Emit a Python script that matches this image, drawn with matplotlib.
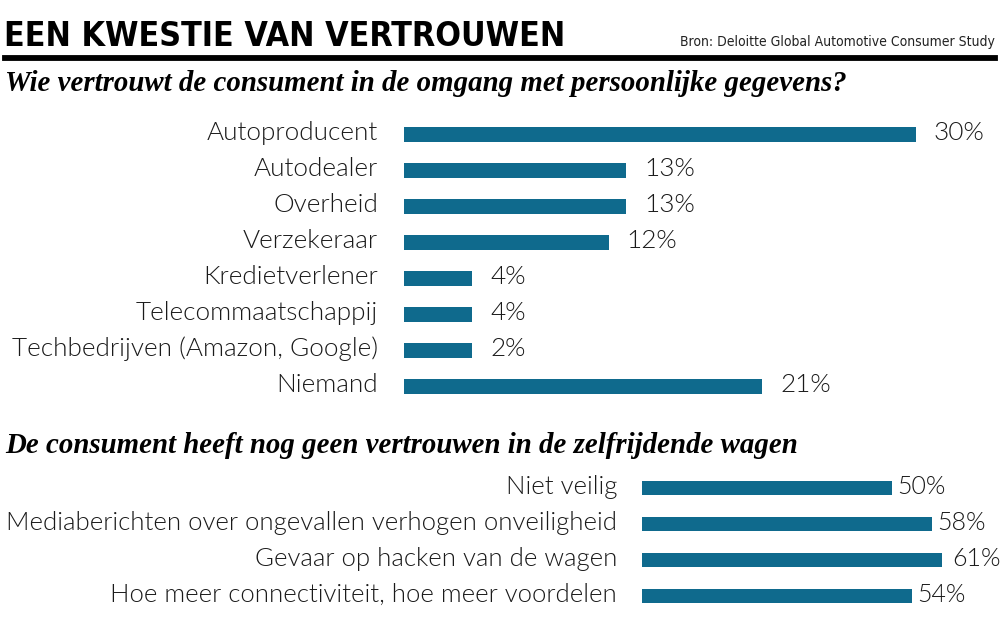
import matplotlib
matplotlib.use("Agg")
import matplotlib.pyplot as plt

W, H = 1000, 639
BAR = "#0f6a8d"
TXT = "#1a1a1a"

title = "EEN KWESTIE VAN VERTROUWEN"
source = "Bron: Deloitte Global Automotive Consumer Study"
subtitle1 = "Wie vertrouwt de consument in de omgang met persoonlijke gegevens?"
subtitle2 = "De consument heeft nog geen vertrouwen in de zelfrijdende wagen"

cats1 = ["Autoproducent", "Autodealer", "Overheid", "Verzekeraar",
         "Kredietverlener", "Telecommaatschappij",
         "Techbedrijven (Amazon, Google)", "Niemand"]
values1 = [30, 13, 13, 12, 4, 4, 2, 21]
# bar lengths as drawn in the source (the 2% bar is drawn as long as 4%)
bars1 = [30, 13, 13, 12, 4, 4, 4, 21]

cats2 = ["Niet veilig", "Mediaberichten over ongevallen verhogen onveiligheid",
         "Gevaar op hacken van de wagen",
         "Hoe meer connectiviteit, hoe meer voordelen"]
values2 = [50, 58, 61, 54]

fig = plt.figure(figsize=(W / 100, H / 100), dpi=100)


def fx(x):
    return x / W


def fy(y):
    return 1 - y / H


LBL = dict(family="Lato", fontweight=300, color=TXT, annotation_clip=False)

fig.text(fx(4), fy(46), title, fontsize=24.3, fontweight="bold",
         fontstretch="condensed", family="DejaVu Sans", color="black",
         va="baseline", ha="left")
fig.text(fx(995), fy(46), source, fontsize=10, family="DejaVu Sans",
         fontstretch="condensed", color="#222222", va="baseline", ha="right")
fig.add_artist(plt.Line2D([fx(5), fx(995)], [fy(58), fy(58)],
                          color="black", linewidth=4.2))
fig.text(fx(5), fy(91), subtitle1, fontsize=20.8, fontweight="bold",
         fontstyle="italic", family="Liberation Serif", color="black",
         va="baseline", ha="left")
fig.text(fx(5), fy(453), subtitle2, fontsize=20.8, fontweight="bold",
         fontstyle="italic", family="Liberation Serif", color="black",
         va="baseline", ha="left")

# top chart
ax1 = fig.add_axes([fx(404), fy(404), 512 / W, 288 / H])
ys = list(range(len(cats1)))
ax1.barh(ys, bars1, height=15 / 36, color=BAR)
ax1.set_xlim(0, 30)
ax1.set_ylim(len(cats1) - 0.5, -0.5)
for i, (c, v, b) in enumerate(zip(cats1, values1, bars1)):
    ax1.annotate(c, xy=(0, i), xytext=(-26, 1), textcoords="offset pixels",
                 ha="right", va="center", fontsize=18.8, **LBL)
    ax1.annotate(f"{v}%", xy=(b, i), xytext=(18, 1), textcoords="offset pixels",
                 ha="left", va="center", fontsize=18.8, **LBL)
ax1.axis("off")

# bottom chart
ax2 = fig.add_axes([fx(642), fy(614), 300 / W, 144 / H])
ys2 = list(range(len(cats2)))
ax2.barh(ys2, values2, height=14 / 36, color=BAR)
ax2.set_xlim(0, 60)
ax2.set_ylim(len(cats2) - 0.5, -0.5)
for i, (c, v) in enumerate(zip(cats2, values2)):
    ax2.annotate(c, xy=(0, i), xytext=(-25, 1), textcoords="offset pixels",
                 ha="right", va="center", fontsize=18.5, **LBL)
    ax2.annotate(f"{v}%", xy=(v, i), xytext=(5, 1), textcoords="offset pixels",
                 ha="left", va="center", fontsize=18, **LBL)
ax2.axis("off")

fig.savefig("out.png", dpi=100, facecolor="white")
